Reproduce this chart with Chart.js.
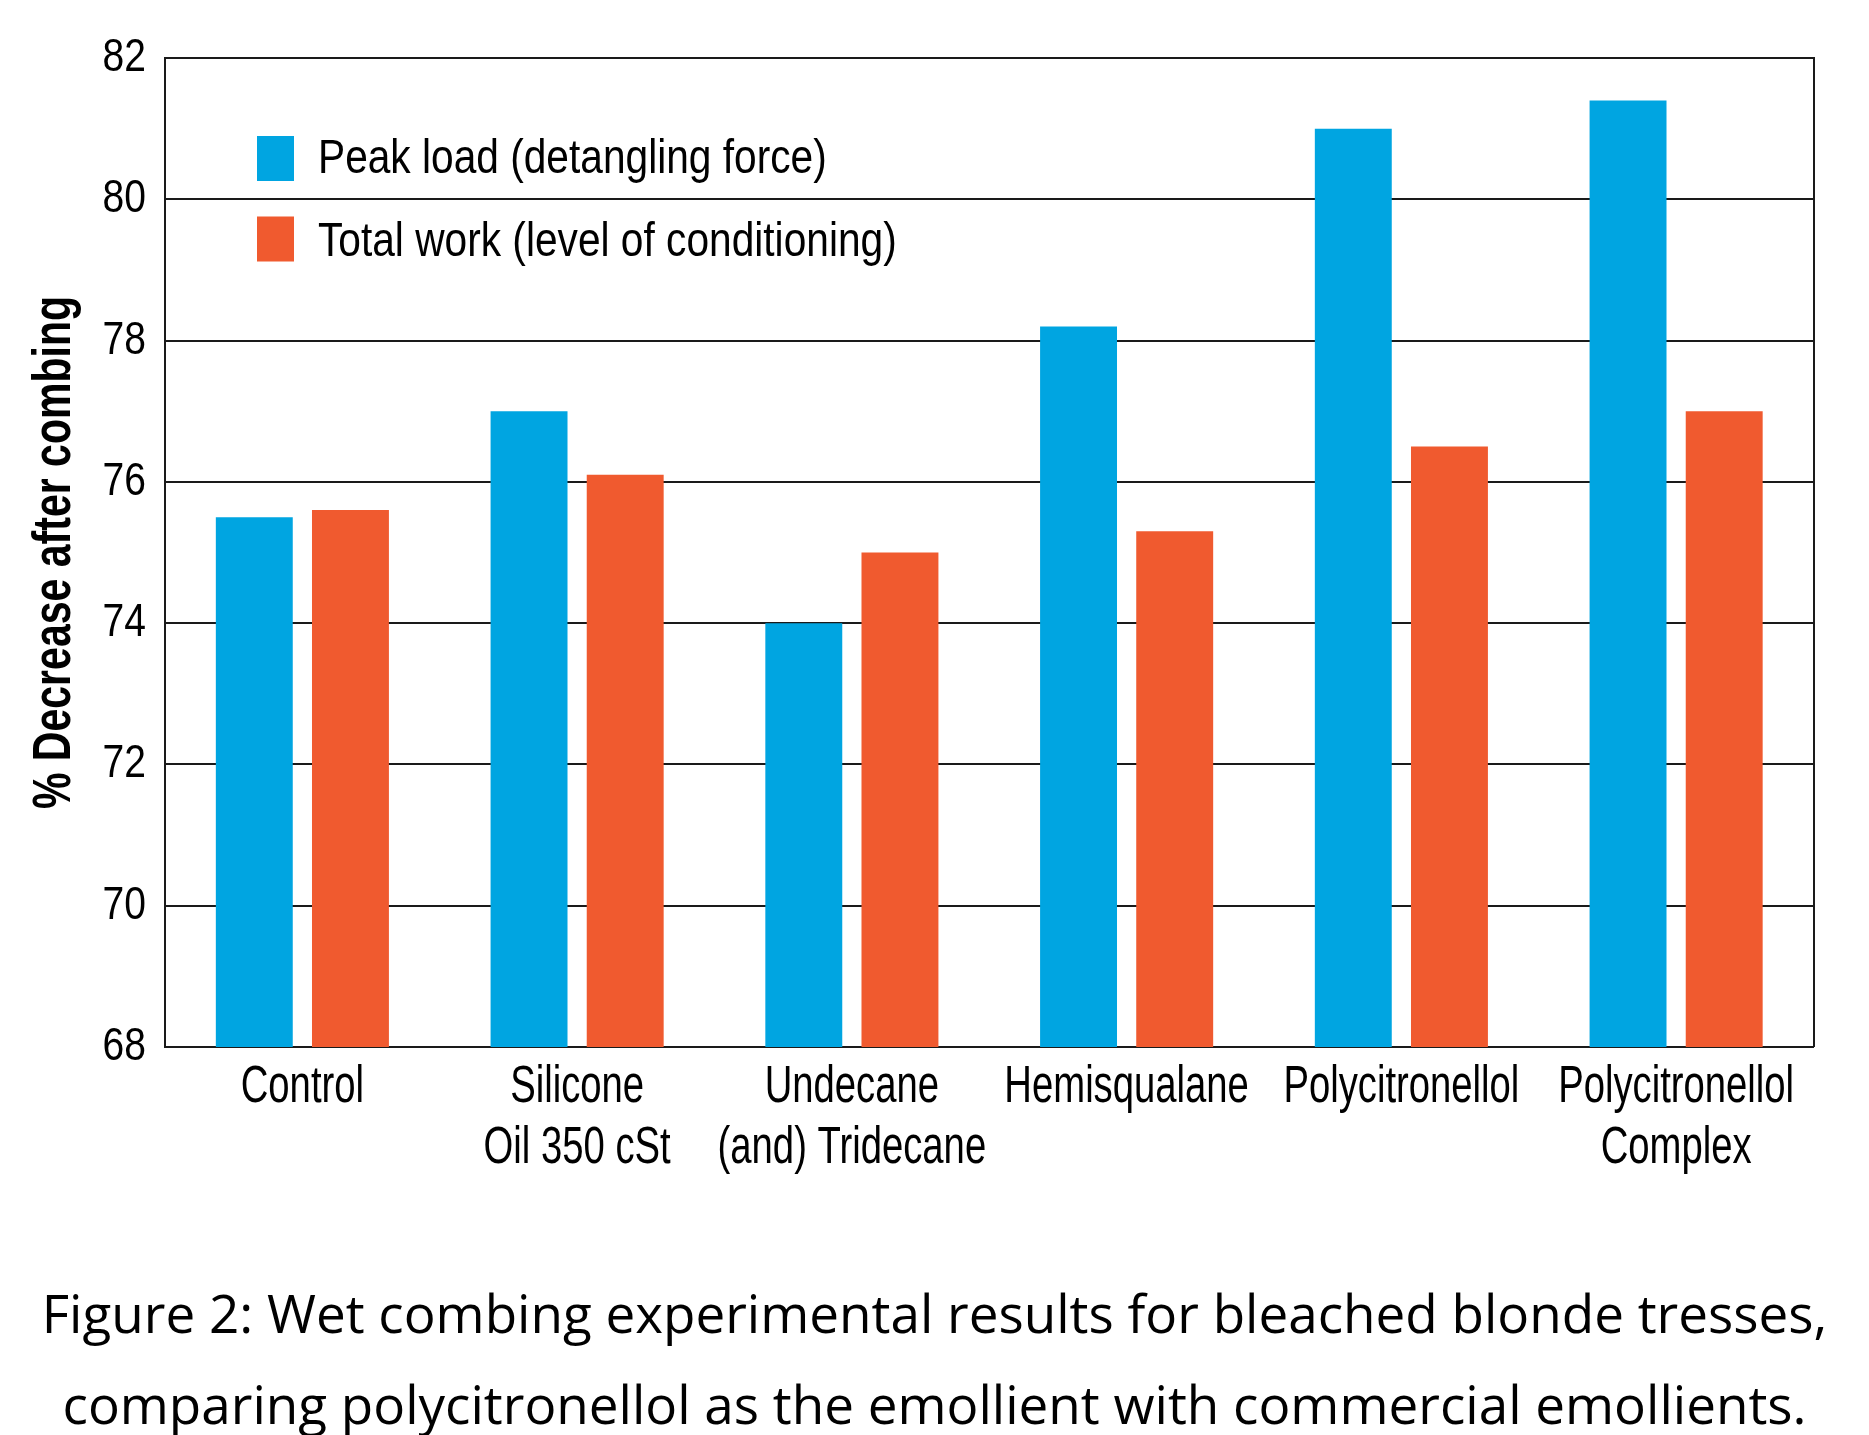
<!DOCTYPE html>
<html>
<head>
<meta charset="utf-8">
<script src="https://cdn.jsdelivr.net/npm/chart.js@4.4.1/dist/chart.umd.min.js"></script>
<style>
  html, body { margin: 0; padding: 0; background: #ffffff; }
  #wrap { width: 1869px; height: 1435px; position: relative; }
</style>
</head>
<body>
<div id="wrap"><canvas id="c"></canvas></div>
<script>
// ---- data ----
const categories = [
  "Control",
  ["Silicone", "Oil 350 cSt"],
  ["Undecane", "(and) Tridecane"],
  "Hemisqualane",
  "Polycitronellol",
  ["Polycitronellol", "Complex"]
];
const seriesNames = ["Peak load (detangling force)", "Total work (level of conditioning)"];
const peakLoad  = [75.5, 77.0, 74.0, 78.2, 81.0, 81.4];
const totalWork = [75.6, 76.1, 75.0, 75.3, 76.5, 77.0];
const yMin = 68, yMax = 82, yStep = 2;
const yTitle = "% Decrease after combing";
const captionLines = [
  "Figure 2: Wet combing experimental results for bleached blonde tresses,",
  "comparing polycitronellol as the emollient with commercial emollients."
];

// ---- style ----
const BLUE = "#00A5E1";
const ORANGE = "#F05A2F";
const INK = "#1a1a1a";
const COND = "'Liberation Sans'";   // drawn horizontally condensed (see below)
const CAPTION_FONT = "'Open Sans', Lato, sans-serif";
// horizontal condensing factor per font size (px) for the condensed face
const condensing = { "47": 0.83, "49": 0.83, "51": 0.75, "54b": 0.76 };

function condenseFactor(font) {
  if (!/Liberation Sans/.test(font)) return 1;
  const m = font.match(/([\d.]+)px/);
  if (!m) return 1;
  const key = String(Math.round(parseFloat(m[1]))) + (/bold|700/.test(font) ? "b" : "");
  return condensing[key] || 1;
}

const canvas = document.getElementById("c");
const ctx0 = canvas.getContext("2d");
const origFill = ctx0.fillText;
const origMeasure = ctx0.measureText;
ctx0.fillText = function (text, x, y, maxWidth) {
  const k = condenseFactor(this.font);
  if (k === 1) {
    return maxWidth === undefined ? origFill.call(this, text, x, y) : origFill.call(this, text, x, y, maxWidth);
  }
  this.save();
  this.translate(x, y);
  this.scale(k, 1);
  if (maxWidth === undefined) origFill.call(this, text, 0, 0);
  else origFill.call(this, text, 0, 0, maxWidth / k);
  this.restore();
};
ctx0.measureText = function (text) {
  const m = origMeasure.call(this, text);
  const k = condenseFactor(this.font);
  if (k === 1) return m;
  return {
    width: m.width * k,
    actualBoundingBoxLeft: m.actualBoundingBoxLeft * k,
    actualBoundingBoxRight: m.actualBoundingBoxRight * k,
    actualBoundingBoxAscent: m.actualBoundingBoxAscent,
    actualBoundingBoxDescent: m.actualBoundingBoxDescent,
    fontBoundingBoxAscent: m.fontBoundingBoxAscent,
    fontBoundingBoxDescent: m.fontBoundingBoxDescent
  };
};

const innerLegend = {
  id: "innerLegend",
  afterDatasetsDraw(chart) {
    const { ctx, chartArea } = chart;
    const boxX = chartArea.left + 92;
    const rows = [chartArea.top + 78, chartArea.top + 158.5];
    const textShift = [23, 26];
    ctx.save();
    ctx.font = "49px " + COND;
    ctx.textBaseline = "middle";
    ctx.textAlign = "left";
    chart.data.datasets.forEach((ds, i) => {
      ctx.fillStyle = ds.backgroundColor;
      ctx.fillRect(boxX, rows[i], 37, 45);
      ctx.fillStyle = "#000";
      ctx.fillText(ds.label, boxX + 61, rows[i] + textShift[i]);
    });
    ctx.restore();
  }
};

new Chart(canvas, {
  type: "bar",
  data: {
    labels: categories,
    datasets: [
      { label: seriesNames[0], data: peakLoad, backgroundColor: BLUE, borderWidth: 0 },
      { label: seriesNames[1], data: totalWork, backgroundColor: ORANGE, borderWidth: 0 }
    ]
  },
  options: {
    responsive: true,
    maintainAspectRatio: false,
    animation: false,
    devicePixelRatio: 1,
    layout: { padding: { top: 58, left: 0, right: 0, bottom: 0 } },
    datasets: { bar: { categoryPercentage: 0.70, barPercentage: 0.80 } },
    plugins: {
      legend: { display: false },
      tooltip: { enabled: false },
      title: {
        display: true,
        position: "bottom",
        text: captionLines,
        color: "#000",
        font: { family: CAPTION_FONT, size: 53, weight: "normal", lineHeight: 1.717 },
        padding: { top: 94, bottom: -19 }
      }
    },
    scales: {
      x: {
        z: 1,
        grid: { display: false, drawTicks: false },
        border: { display: true, color: INK, width: 2 },
        ticks: {
          color: "#000",
          padding: 10,
          maxRotation: 0,
          autoSkip: false,
          font: { family: COND, size: 51, lineHeight: 1.196 }
        },
        afterFit(scale) { scale.height = 131; }
      },
      y: {
        min: yMin, max: yMax,
        grid: { color: INK, lineWidth: 2, drawTicks: false },
        border: { display: true, color: INK, width: 2 },
        ticks: {
          stepSize: yStep,
          color: "#000",
          padding: 19,
          font: { family: COND, size: 47 }
        },
        title: {
          display: true,
          text: yTitle,
          color: "#000",
          font: { family: COND, size: 54, weight: "bold", lineHeight: 1.2 },
          padding: { top: 23, bottom: 0 }
        },
        afterFit(scale) { scale.width = 165; }
      },
      y2: {
        position: "right",
        min: yMin, max: yMax,
        z: 1,
        grid: { display: false, drawTicks: false },
        border: { display: true, color: INK, width: 2 },
        ticks: { display: false },
        afterFit(scale) { scale.width = 55.5; }
      }
    }
  },
  plugins: [innerLegend]
});
</script>
</body>
</html>
